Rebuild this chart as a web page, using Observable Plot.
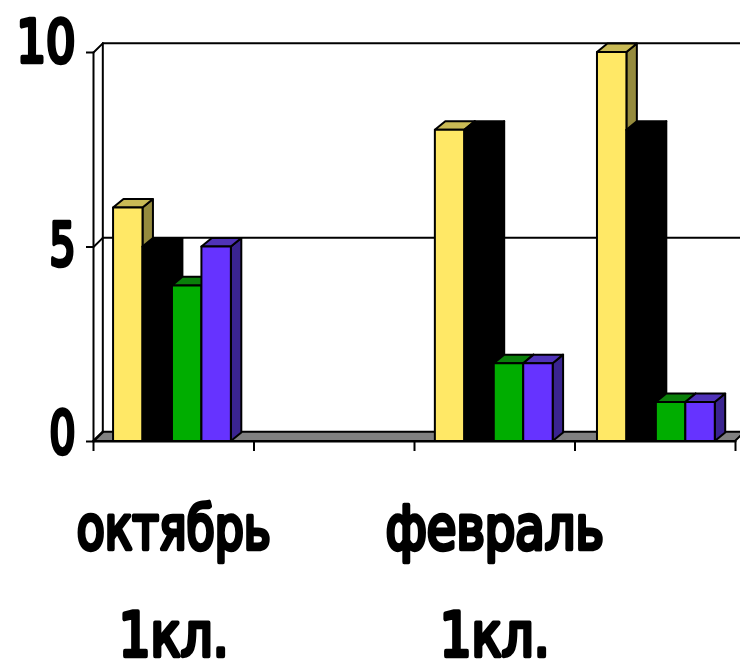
<!DOCTYPE html>
<html><head><meta charset="utf-8">
<script src="https://cdn.jsdelivr.net/npm/d3@7"></script>
<script src="https://cdn.jsdelivr.net/npm/@observablehq/plot@0.6"></script>
<style>html,body{margin:0;padding:0;background:#fff}svg{display:block}</style>
</head><body><div id="chart"></div>
<script>
const months = ["октябрь", "", "февраль", ""];
const classes = ["1кл.", "", "1кл.", ""];
const yellow = [6, null, 8, 10];
const black = [5, null, 8, 8];
const green = [4, null, 2, 1];
const violet = [5, null, 2, 1];
const yTicks = [0, 5, 10];

const seriesList = [
  {values: yellow, front: "#FFE866", side: "#958B3D", top: "#C9BA55"},
  {values: black, front: "#000000", side: "#000000", top: "#000000"},
  {values: green, front: "#00AD00", side: "#006E00", top: "#0A7F0A"},
  {values: violet, front: "#6633FF", side: "#3A2490", top: "#5033B8"}
];

const depthX = 0.058, depthY = 0.235, barW = 0.1835;
const barDepthX = 0.065, barDepthY = 0.22;
const inset = [0.125, 0.13, 0.13, 0.14];
const stroke = {stroke: "#000", strokeWidth: 2, strokeLinejoin: "round"};
const heavy = {fontFamily: "'DejaVu Sans',sans-serif", fontWeight: 400, fill: "#000", stroke: "#000", strokeWidth: 4.5, strokeLinejoin: "round", strokeLinecap: "round"};

const bars = [];
months.forEach((_, g) => seriesList.forEach((s, i) => {
  const v = s.values[g];
  if (v == null) return;
  const xl = g + inset[g] + i * barW, xr = xl + barW;
  bars.push(
    Plot.areaY([{x: xr, a: 0, b: v}, {x: xr + barDepthX, a: barDepthY, b: v + barDepthY}],
      {x: "x", y1: "a", y2: "b", fill: s.side, ...stroke}),
    Plot.areaX([{y: v, a: xl, b: xr}, {y: v + barDepthY, a: xl + barDepthX, b: xr + barDepthX}],
      {y: "y", x1: "a", x2: "b", fill: s.top, ...stroke}),
    Plot.rect([{xl, xr, v}], {x1: "xl", x2: "xr", y1: 0, y2: "v", fill: s.front, ...stroke})
  );
}));

const n = months.length;
const labelled = months.map((m, i) => ({m, c: classes[i], x: i + 0.5})).filter(d => d.m);
const yLabelDy = {0: -7, 5: -1, 10: -9};
const textWidths = {"10": 59, "5": 26, "0": 26, "октябрь": 194, "февраль": 218, "1кл.": 110};

const plot = Plot.plot({
  width: 740, height: 670,
  marginLeft: 93, marginRight: 5, marginTop: 52, marginBottom: 229,
  x: {type: "linear", domain: [0, n], axis: null},
  y: {type: "linear", domain: [0, 10], axis: null},
  marks: [
    Plot.areaX([{y: 0, a: 0, b: n}, {y: depthY, a: depthX, b: n + depthX}],
      {y: "y", x1: "a", x2: "b", fill: "#808080", ...stroke}),
    ...yTicks.filter(t => t > 0).map(t => Plot.line([[depthX, t + depthY], [n + depthX, t + depthY]], {...stroke})),
    ...yTicks.map(t => Plot.line([[0, t], [depthX, t + depthY]], {...stroke})),
    Plot.line([[0, 0], [0, 10]], {...stroke}),
    Plot.line([[depthX, depthY], [depthX, 10 + depthY]], {...stroke}),
    Plot.line([[0, 0], [n, 0]], {...stroke}),
    Plot.axisX({ticks: d3.range(n + 1), tickSize: 10, tickFormat: () => "", stroke: "#000", strokeWidth: 2, label: null}),
    Plot.axisY({ticks: yTicks, tickSize: 7, tickFormat: () => "", stroke: "#000", strokeWidth: 2, label: null}),
    ...bars,
    ...yTicks.map(t => Plot.text([t], {y: d => d, text: d => String(d), frameAnchor: "left", textAnchor: "end", dx: -18, dy: yLabelDy[t], fontSize: 58, ...heavy})),
    Plot.text(labelled, {x: "x", text: "m", frameAnchor: "bottom", dy: 107, lineAnchor: "bottom", fontSize: 60, ...heavy}),
    Plot.text(labelled, {x: "x", text: "c", frameAnchor: "bottom", dy: 214, lineAnchor: "bottom", fontSize: 60, ...heavy})
  ]
});
d3.select(plot).selectAll("text").each(function () {
  const w = textWidths[this.textContent.trim()];
  if (w) { this.setAttribute("textLength", w); this.setAttribute("lengthAdjust", "spacingAndGlyphs"); }
});
document.getElementById("chart").append(plot);
</script></body></html>
